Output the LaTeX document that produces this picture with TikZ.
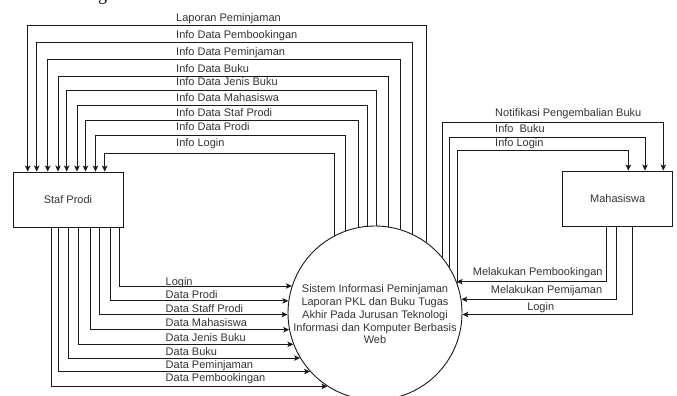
\documentclass[tikz,border=0pt]{standalone}
\usepackage{fontspec}
\setmainfont{Liberation Sans}
\newfontfamily\serifg{Liberation Serif}
\usetikzlibrary{arrows.meta}
\begin{document}
\begin{tikzpicture}[x=1pt,y=-1pt,
  ln/.style={draw=black!90, line width=0.9pt},
  arr/.style={ln, -{Stealth[length=6pt,width=5.5pt,inset=1.5pt]}},
  lbl/.style={font=\fontsize{11}{13}\selectfont, text=black!80, inner sep=0pt, text height=8pt, text depth=2.5pt, anchor=west},
  ent/.style={draw=black!90, line width=0.9pt, minimum width=110pt, minimum height=55pt, inner sep=0pt, font=\fontsize{11}{13}\selectfont, text=black!80},
]
\useasboundingbox (0,0) rectangle (677,396);
\node[font=\serifg\fontsize{18}{18}\selectfont, anchor=base, inner sep=0pt] (capg) at (102.5,0.3) {g};

\node[ent] (staf) at (68,199.5) {Staf Prodi};
\node[ent] (mhs) at (617.7,198.5) {Mahasiswa};
\node[ln, circle, minimum size=174pt, inner sep=0pt] (sys) at (375,313) {};
\node[align=center, inner sep=0pt, font=\fontsize{11}{12.75}\selectfont, text=black!80] (systxt) at (375,314.5)
  {Sistem Informasi Peminjaman\\Laporan PKL dan Buku Tugas\\Akhir Pada Jurusan Teknologi\\Informasi dan Komputer Berbasis\\Web};

% top: system -> Staf Prodi
\foreach \a/\y/\x/\ly/\t [count=\i] in {
  54.92/25/27.7/18.3/Laporan Peminjaman,
  65.05/42.7/36.7/36/Info Data Pembookingan,
  73.30/59/47.7/52.7/Info Data Peminjaman,
  81.21/76.3/58/69.3/Info Data Buku,
  89.7/90.7/66.7/83/Info Data Jenis Buku,
  95.47/105.3/77/98.7/Info Data Mahasiswa,
  101.94/120.3/85.5/113.7/Info Data Staf Prodi,
  110.52/135.7/95.5/127.5/Info Data Prodi,
  118.87/153.7/104.7/144/Info Login}{
  \draw[arr] (sys.\a) |- (\x,\y) -- (\x,\y |- staf.north);
  \node[lbl] (tl\i) at (176,\ly) {\t};
}

% bottom: Staf Prodi -> system
\foreach \x/\a/\ly/\t [count=\i] in {
  119/162.4/282.3/Login,
  110.7/172.5/296/Data Prodi,
  99.3/181.8/309.3/Data Staff Prodi,
  90.7/191.7/323.3/Data Mahasiswa,
  78.7/201.1/338.3/Data Jenis Buku,
  68.3/211.4/352.3/Data Buku,
  58.7/222.7/365.7/Data Peminjaman,
  51/237.0/379/Data Pembookingan}{
  \draw[arr] (\x,0 |- staf.south) |- (sys.\a);
  \node[lbl] (bl\i) at (165.5,\ly) {\t};
}

% system -> Mahasiswa
\draw[arr] (sys.40.96) |- (663.3,122) -- (663.3,122 |- mhs.north);
\draw[arr] (sys.32.60) |- (645,137.7) -- (645,137.7 |- mhs.north);
\draw[arr] (sys.20.10) |- (628.3,150.7) -- (628.3,150.7 |- mhs.north);
\node[lbl] (tr1) at (495,114) {Notifikasi Pengembalian Buku};
\node[lbl] (tr2) at (495,130) {Info\ \ Buku};
\node[lbl] (tr3) at (495,143.3) {Info Login};

% Mahasiswa -> system
\draw[arr] (606.7,0 |- mhs.south) |- (sys.21.09);
\draw[arr] (616,0 |- mhs.south) |- (sys.9.06);
\draw[arr] (632.3,0 |- mhs.south) |- (sys.359.34);
\node[lbl] (br1) at (472.7,272.7) {Melakukan Pembookingan};
\node[lbl] (br2) at (490.7,291) {Melakukan Pemijaman};
\node[lbl, anchor=center] (br3) at (540.7,307.3) {Login};
\end{tikzpicture}
\end{document}
